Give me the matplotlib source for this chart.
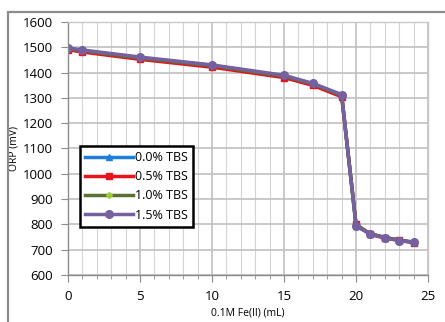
import numpy as np
import matplotlib.pyplot as plt
from matplotlib.patches import Rectangle

# volume of 0.1M Fe(II) added (mL)
fe_ml = [0, 1, 5, 10, 15, 17, 19, 20, 21, 22, 23, 24]

orp_00 = [1495, 1487, 1458, 1428, 1386, 1354, 1310, 795, 762, 748, 738, 730]
orp_05 = [1490, 1481, 1452, 1421, 1380, 1349, 1304, 800, 760, 746, 738, 728]
orp_10 = [1494, 1486, 1457, 1427, 1385, 1355, 1309, 797, 763, 749, 737, 729]
orp_15 = [1497, 1489, 1461, 1430, 1389, 1357, 1313, 793, 761, 747, 735, 729]

labels = ['0.0% TBS', '0.5% TBS', '1.0% TBS', '1.5% TBS']

plt.rcParams['font.family'] = ['Open Sans', 'DejaVu Sans']

fig = plt.figure(figsize=(4.45, 3.22), dpi=100)
ax = fig.add_axes([0.153, 0.146, 0.809, 0.786])

# outer chart border
fig.patches.append(Rectangle((8/445, -0.05), 1.2, 1 - 12/322 + 0.05,
                             transform=fig.transFigure, fill=False,
                             edgecolor='#8c8c8c', linewidth=1.6))

ax.plot(fe_ml, orp_00, color='#1f7fd8', lw=2.5, marker='^', ms=5, label=labels[0])
ax.plot(fe_ml, orp_05, color='#e8141c', lw=2.5, marker='s', ms=5, label=labels[1])
ax.plot(fe_ml, orp_10, color='#5a7034', lw=2.5, marker='D', ms=3,
        mfc='#9acd32', mec='#9acd32', label=labels[2])
ax.plot(fe_ml, orp_15, color='#7560a0', lw=2.5, marker='o', ms=5.5, label=labels[3])

ax.set_xlim(0, 25)
ax.set_ylim(600, 1600)
ax.set_xticks(np.arange(0, 26, 5))
ax.set_xticks(np.arange(0, 26, 1), minor=True)
ax.set_yticks(np.arange(600, 1601, 100))

ax.grid(which='major', color='#c0c0c0', lw=1.2)
ax.grid(which='minor', axis='x', color='#d4d4d4', lw=0.8)
ax.set_axisbelow(True)

for s in ax.spines.values():
    s.set_color('#c8c8c8')
    s.set_linewidth(1.0)
ax.spines['left'].set_color('#8c8c8c')
ax.spines['bottom'].set_color('#8c8c8c')

ax.tick_params(which='major', length=5, color='#8c8c8c', labelsize=9.5, pad=6)
ax.tick_params(which='minor', length=3, color='#8c8c8c')
ax.tick_params(axis='y', which='minor', length=0)

ax.set_xlabel('0.1M Fe(II) (mL)', fontsize=7.5, labelpad=3)
ax.set_ylabel('ORP (mV)', fontsize=7.5, labelpad=2)

leg = ax.legend(loc='upper left', bbox_to_anchor=(0.034, 0.51), fontsize=9,
                frameon=True, fancybox=False, framealpha=1, handlelength=3.8,
                handletextpad=0.2, borderpad=0.4, labelspacing=0.5,
                borderaxespad=0)
leg.get_frame().set_edgecolor('black')
leg.get_frame().set_linewidth(1.8)

fig.savefig('out.png', dpi=100)
